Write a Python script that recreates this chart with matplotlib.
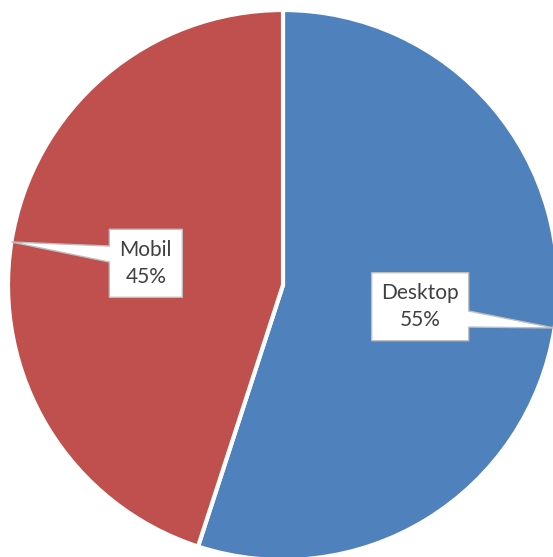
import numpy as np
import matplotlib.pyplot as plt
from matplotlib.patches import Polygon

labels = ["Desktop", "Mobil"]
shares = [55, 45]
colors = ["#4F81BD", "#C0504D"]

W, H = 553, 557
fig = plt.figure(figsize=(W / 100, H / 100), dpi=100)
ax = fig.add_axes([0, 0, 1, 1])

cx, cy, r = 283, 272, 275
wedges, _ = ax.pie(shares, colors=colors, startangle=90, counterclock=False,
                   center=(cx, cy), radius=r,
                   wedgeprops=dict(edgecolor="white", linewidth=3))
ax.set_xlim(0, W)
ax.set_ylim(0, H)
ax.set_aspect("auto")
ax.axis("off")

# callout boxes (width, height in px)
box_sizes = [(97, 68), (73, 68)]
for w, lab, pct, (bw, bh) in zip(wedges, labels, shares, box_sizes):
    mid = np.deg2rad((w.theta1 + w.theta2) / 2)
    tx, ty = cx + r * np.cos(mid), cy + r * np.sin(mid)
    lx, ly = cx + 0.505 * r * np.cos(mid), cy + 0.505 * r * np.sin(mid)
    x0, x1 = lx - bw / 2, lx + bw / 2
    y0, y1 = ly - bh / 2, ly + bh / 2
    side = x1 if np.cos(mid) > 0 else x0
    # where the line to the tip leaves the box, pushed a bit toward the tip
    f = (side - lx) / (tx - lx)
    by = ly + 1.6 * f * (ty - ly)
    blo, bhi = by - 8, by + 8
    if np.cos(mid) > 0:
        pts = [(x0, y0), (x1, y0), (x1, blo), (tx, ty), (x1, bhi), (x1, y1), (x0, y1)]
    else:
        pts = [(x0, y0), (x1, y0), (x1, y1), (x0, y1), (x0, bhi), (tx, ty), (x0, blo)]
    ax.add_patch(Polygon(pts, closed=True, facecolor="white", edgecolor="#BFBFBF",
                         linewidth=1, zorder=3))
    ax.text(lx, ly, f"{lab}\n{pct}%", ha="center", va="center", fontsize=15,
            family=["Lato", "DejaVu Sans"], color="#404040", linespacing=1.45, zorder=4)

fig.savefig("out.png", dpi=100)
